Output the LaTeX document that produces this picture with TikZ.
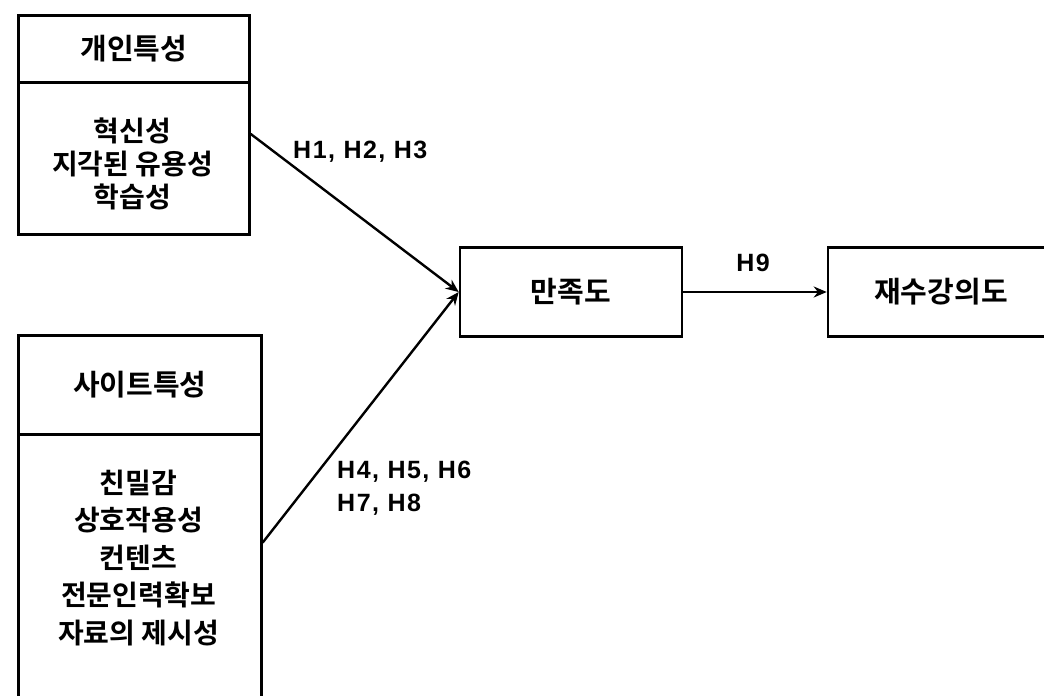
\documentclass[tikz,border=0pt]{standalone}
\usepackage{fontspec}
\setmainfont{Noto Sans CJK KR}[BoldFont={Noto Sans CJK KR Bold}]
\newfontfamily\hfont{Liberation Sans}[LetterSpace=6]
\usetikzlibrary{arrows.meta,calc}
\begin{document}
\begin{tikzpicture}[x=1pt,y=-1pt,
  box/.style={draw,line width=2.6pt,inner sep=0pt},
  kt/.style={font=\fontsize{28}{33}\selectfont\bfseries,align=center,inner sep=0pt},
  kh/.style={font=\fontsize{29}{33}\selectfont\bfseries,align=center,inner sep=0pt},
  ht/.style={font=\hfont\fontsize{25}{33}\selectfont\bfseries,align=left,inner sep=0pt},
  arr/.style={line width=2.4pt,-{Stealth[length=13pt,width=11pt]}}]
\useasboundingbox (0,0) rectangle (1044,696);
% individual characteristics
\node[box,anchor=north west,minimum width=231pt,minimum height=67pt] (th) at (17,14) {};
\node[box,anchor=north west,minimum width=231pt,minimum height=152pt] (tb) at (17,81) {};
\node[kh] (tht) at (th.center) {개인특성};
\node[kt] (tbt) at (132.5,164) {혁신성\\지각된 유용성\\학습성};
% site characteristics
\node[box,anchor=north west,minimum width=243pt,minimum height=99pt] (bh) at (17,334) {};
\node[box,anchor=north west,minimum width=243pt,minimum height=320pt] (bb) at (17,433) {};
\node[kh] (bht) at (bh.center) {사이트특성};
\node[kt,font=\fontsize{28}{37.5}\selectfont\bfseries] (bbt) at (138.5,558) {친밀감\\상호작용성\\컨텐츠\\전문인력확보\\자료의 제시성};
% satisfaction and intention
\node[box,kh,minimum width=222pt,minimum height=89pt] (sat) at (571,292) {만족도};
\node[box,kh,minimum width=226pt,minimum height=89pt] (re) at (941,292) {재수강의도};
% connectors
\draw[arr] ($(tb.north east)!0.342!(tb.south east)$) -- (sat.west);
\draw[arr] ($(bb.north east)!0.34!(bb.south east)$) -- (sat.west);
\draw[arr] (sat.east) -- (re.west);
% labels
\node[ht,anchor=west] (l1) at (293,152) {H1, H2, H3};
\node[ht,anchor=west] (l2) at (337,488) {H4, H5, H6\\H7, H8};
\node[ht] (l3) at (753,263) {H9};
\end{tikzpicture}
\end{document}
